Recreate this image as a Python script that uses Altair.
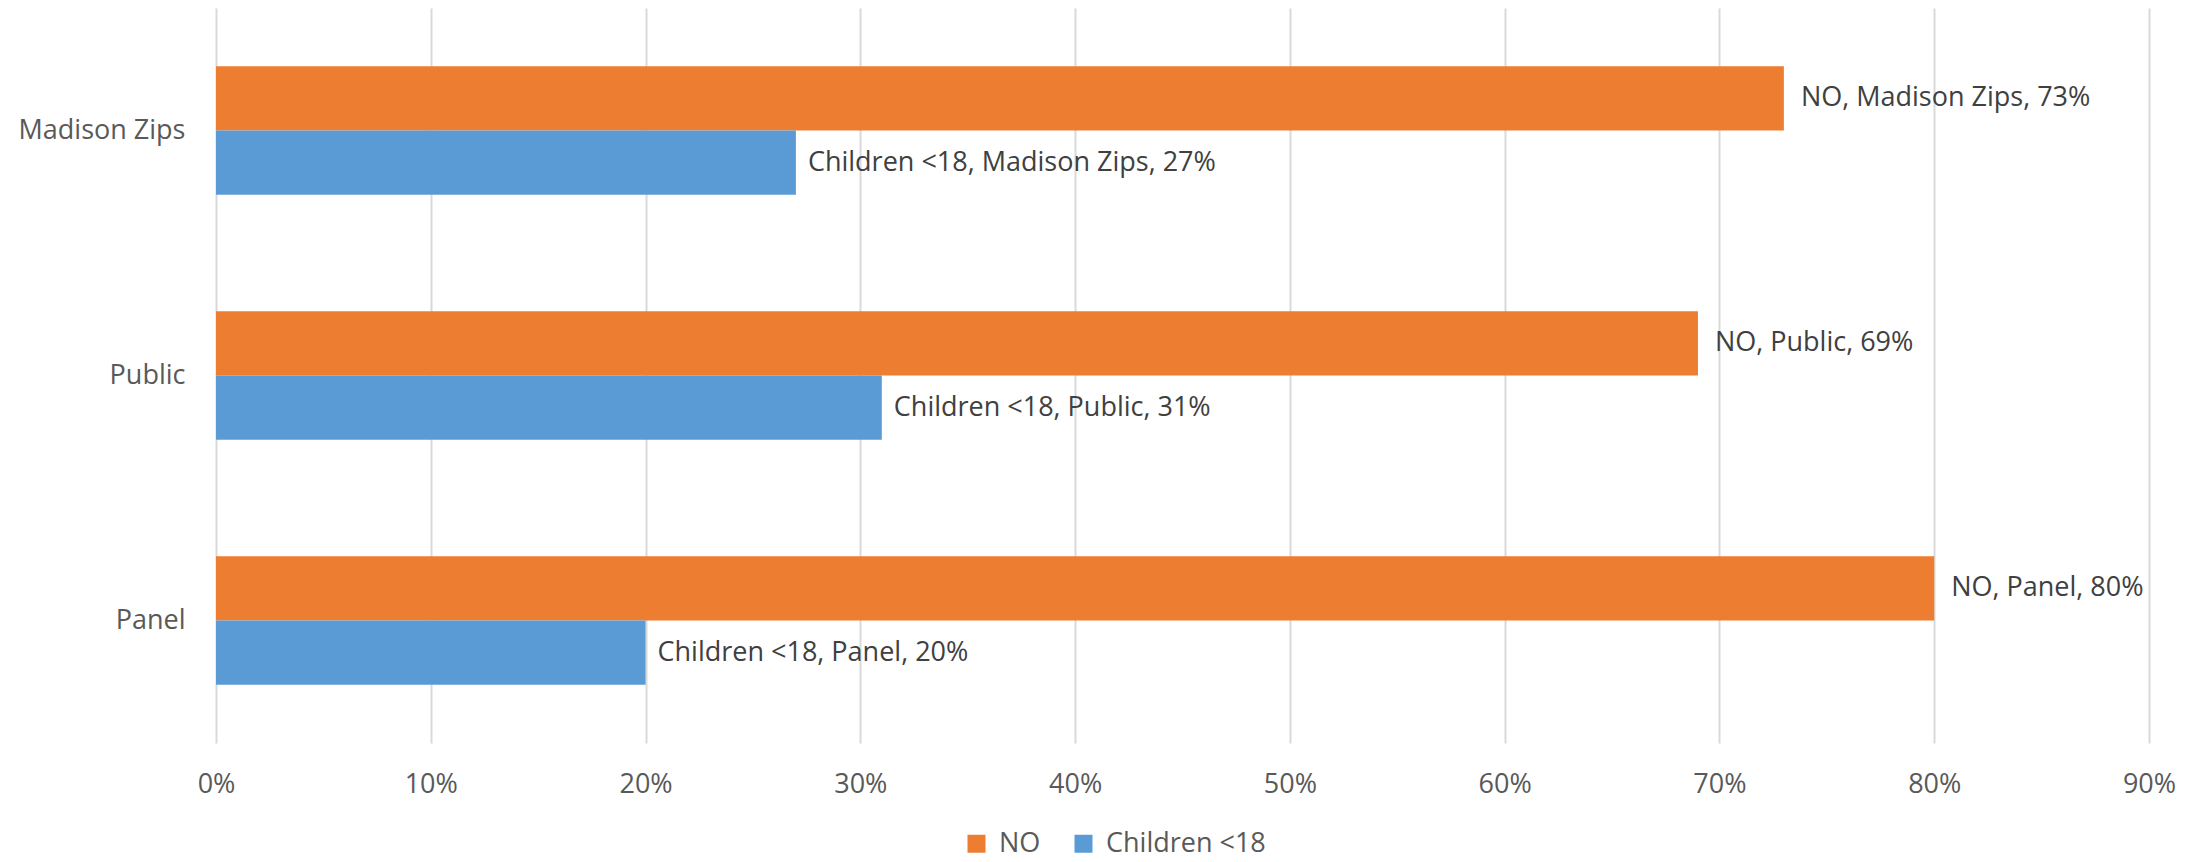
import altair as alt
import pandas as pd

categories = ["Madison Zips", "Public", "Panel"]
series = ["NO", "Children <18"]
no_values = [0.73, 0.69, 0.80]
children_values = [0.27, 0.31, 0.20]
colors = ["#ED7D31", "#5B9BD5"]
x_ticks = [0, 0.1, 0.2, 0.3, 0.4, 0.5, 0.6, 0.7, 0.8, 0.9]

rows = []
for c, v in zip(categories, no_values):
    rows.append({"cat": c, "series": "NO", "value": v,
                 "label": f"NO, {c}, {round(v*100)}%"})
for c, v in zip(categories, children_values):
    rows.append({"cat": c, "series": "Children <18", "value": v,
                 "label": f"Children <18, {c}, {round(v*100)}%"})
df = pd.DataFrame(rows)

FONT = "Open Sans"
W, H = 1933, 735

y_enc = alt.Y("cat:N", sort=categories, title=None,
              scale=alt.Scale(paddingInner=0.475, paddingOuter=0.2375),
              axis=alt.Axis(ticks=False, domain=False, grid=False, labelFont=FONT,
                            labelFontSize=27, labelColor="#595959", labelPadding=31))
yoff = alt.YOffset("series:N", sort=series, scale=alt.Scale(paddingInner=0, paddingOuter=0))

bars = alt.Chart(df).mark_bar().encode(
    x=alt.X("value:Q", title=None,
            scale=alt.Scale(domain=[0, 0.9], nice=False, zero=True),
            axis=alt.Axis(format=".0%", values=x_ticks, ticks=False, domain=False,
                          grid=True, gridColor="#D9D9D9", gridWidth=2,
                          labelFlush=False,
                          labelFont=FONT, labelFontSize=27, labelColor="#595959",
                          labelPadding=28)),
    y=y_enc,
    yOffset=yoff,
    color=alt.Color("series:N", sort=series,
                    scale=alt.Scale(domain=series, range=colors),
                    legend=alt.Legend(title=None, orient="none", direction="horizontal",
                                      legendX=747, legendY=822,
                                      symbolType="square", symbolSize=324,
                                      symbolStrokeWidth=0, symbolOpacity=1,
                                      labelFont=FONT, labelFontSize=27,
                                      labelColor="#595959", labelOffset=9,
                                      columnPadding=29)),
)

text_no = alt.Chart(df).transform_filter(alt.datum.series == "NO").mark_text(
    align="left", baseline="middle", dx=17, font=FONT, fontSize=27, color="#404040"
).encode(x="value:Q", y=alt.Y("cat:N", sort=categories), yOffset=yoff, text="label:N")

text_ch = alt.Chart(df).transform_filter(alt.datum.series == "Children <18").mark_text(
    align="left", baseline="middle", dx=12, font=FONT, fontSize=27, color="#404040"
).encode(x="value:Q", y=alt.Y("cat:N", sort=categories), yOffset=yoff, text="label:N")

chart = alt.layer(bars, text_no, text_ch).properties(
    width=W, height=H,
    background="white",
    autosize=alt.AutoSizeParams(type="none"),
    padding={"left": 208, "top": 0, "right": 40, "bottom": 118},
).configure_view(stroke=None)

chart.save("out.html", embed_options={"renderer": "svg", "actions": False})
